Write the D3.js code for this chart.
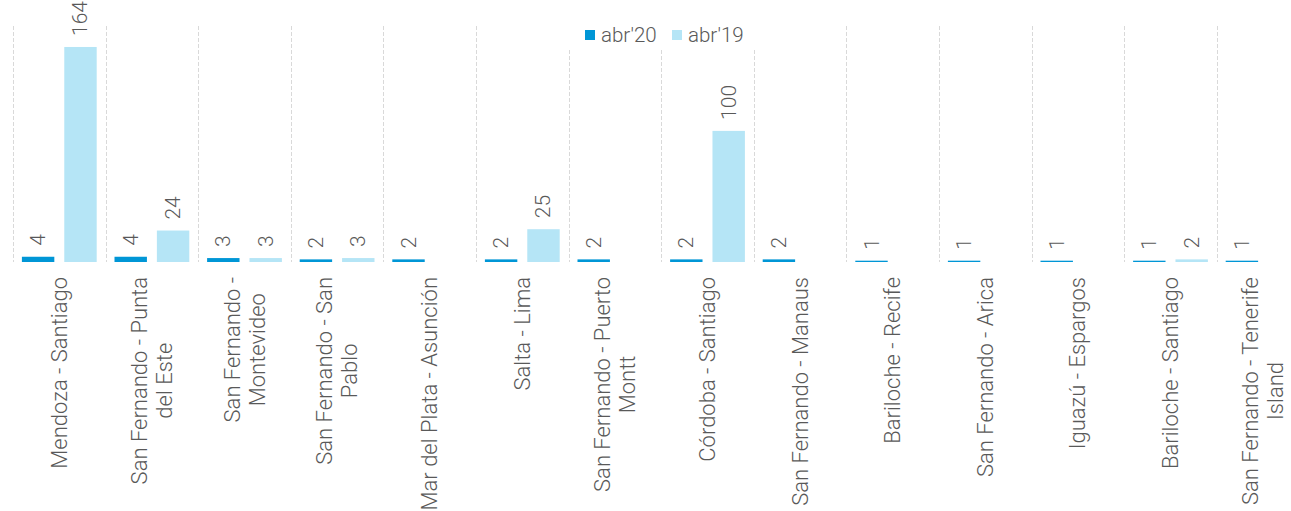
<!DOCTYPE html>
<html><head><meta charset="utf-8">
<script src="https://cdn.jsdelivr.net/npm/d3@7"></script>
<style>
html,body{margin:0;padding:0;background:#fff;}
svg{display:block;font-family:Roboto,"Noto Sans",sans-serif;font-weight:300;}
</style></head>
<body>
<svg id="chart" width="1291" height="511"></svg>
<script>
const categories = [
  "Mendoza - Santiago",
  "San Fernando - Punta del Este",
  "San Fernando - Montevideo",
  "San Fernando - San Pablo",
  "Mar del Plata - Asunción",
  "Salta - Lima",
  "San Fernando - Puerto Montt",
  "Córdoba - Santiago",
  "San Fernando - Manaus",
  "Bariloche - Recife",
  "San Fernando - Arica",
  "Iguazú - Espargos",
  "Bariloche - Santiago",
  "San Fernando - Tenerife Island"
];
const categoryLines = [
  ["Mendoza - Santiago"],
  ["San Fernando - Punta", "del Este"],
  ["San Fernando -", "Montevideo"],
  ["San Fernando - San", "Pablo"],
  ["Mar del Plata - Asunción"],
  ["Salta - Lima"],
  ["San Fernando - Puerto", "Montt"],
  ["Córdoba - Santiago"],
  ["San Fernando - Manaus"],
  ["Bariloche - Recife"],
  ["San Fernando - Arica"],
  ["Iguazú - Espargos"],
  ["Bariloche - Santiago"],
  ["San Fernando - Tenerife", "Island"]
];
const seriesNames = ["abr'20", "abr'19"];
const abr20 = [4, 4, 3, 2, 2, 2, 2, 2, 2, 1, 1, 1, 1, 1];
const abr19 = [164, 24, 3, 3, null, 25, null, 100, null, null, null, null, 2, null];
const colors = ["#0096d6", "#b5e5f6"];

const svg = d3.select("#chart");
const baseY = 262, topY = 26;
const x0 = d3.scaleBand().domain(categories).range([13, 13 + 92.6 * categories.length]).padding(0);
const x1 = d3.scaleBand().domain(seriesNames).range([0, x0.bandwidth()]).paddingInner(0.235).paddingOuter(0.21);
const y = d3.scaleLinear().domain([0, 180]).range([baseY, topY]);

// gridlines at band boundaries
const bounds = categories.map(c => x0(c)).concat([x0.range()[1]]);
svg.append("g").selectAll("line").data(bounds).join("line")
  .attr("x1", d => Math.round(d) + 0.5).attr("x2", d => Math.round(d) + 0.5)
  .attr("y1", topY).attr("y2", baseY)
  .attr("stroke", "#d9d9d9").attr("stroke-width", 1).attr("stroke-dasharray", "4,2");

const seriesData = [abr20, abr19];
const g = svg.append("g");
seriesData.forEach((vals, si) => {
  const name = seriesNames[si];
  const data = categories.map((c, i) => ({c, v: vals[i]})).filter(d => d.v != null);
  g.append("g").selectAll("rect").data(data).join("rect")
    .attr("x", d => x0(d.c) + x1(name))
    .attr("width", x1.bandwidth())
    .attr("y", d => y(d.v))
    .attr("height", d => baseY - y(d.v))
    .attr("fill", colors[si]);
  g.append("g").selectAll("text").data(data).join("text")
    .attr("transform", d => `translate(${x0(d.c) + x1(name) + x1.bandwidth() / 2},${y(d.v) - 11}) rotate(-90)`)
    .attr("text-anchor", "start")
    .attr("dominant-baseline", "central")
    .attr("font-size", 21)
    .attr("fill", "#595959")
    .text(d => d.v);
});

// category labels
const lab = svg.append("g");
categories.forEach((c, i) => {
  const lines = categoryLines[i];
  const cx = x0(c) + x0.bandwidth() / 2;
  const lh = 25;
  const gg = lab.append("g");
  const texts = lines.map((ln, j) => gg.append("text")
    .attr("font-size", 22).attr("fill", "#595959")
    .attr("text-anchor", "middle").attr("dominant-baseline", "central")
    .text(ln));
  const maxL = d3.max(texts, t => t.node().getComputedTextLength());
  texts.forEach((t, j) => {
    const lx = cx + (j - (lines.length - 1) / 2) * lh;
    t.attr("transform", `translate(${lx},${277 + maxL / 2}) rotate(-90)`);
  });
});

// legend
svg.append("rect").attr("x", 562).attr("y", 0).attr("width", 196).attr("height", 50).attr("fill", "#fff");
const legX = [585, 672];
seriesNames.forEach((n, i) => {
  svg.append("rect").attr("x", legX[i]).attr("y", 30).attr("width", 10).attr("height", 10).attr("fill", colors[i]);
  svg.append("text").attr("x", legX[i] + 16).attr("y", 35).attr("dominant-baseline", "central")
    .attr("font-size", 20.5).attr("fill", "#595959").text(n);
});
</script>
</body></html>
